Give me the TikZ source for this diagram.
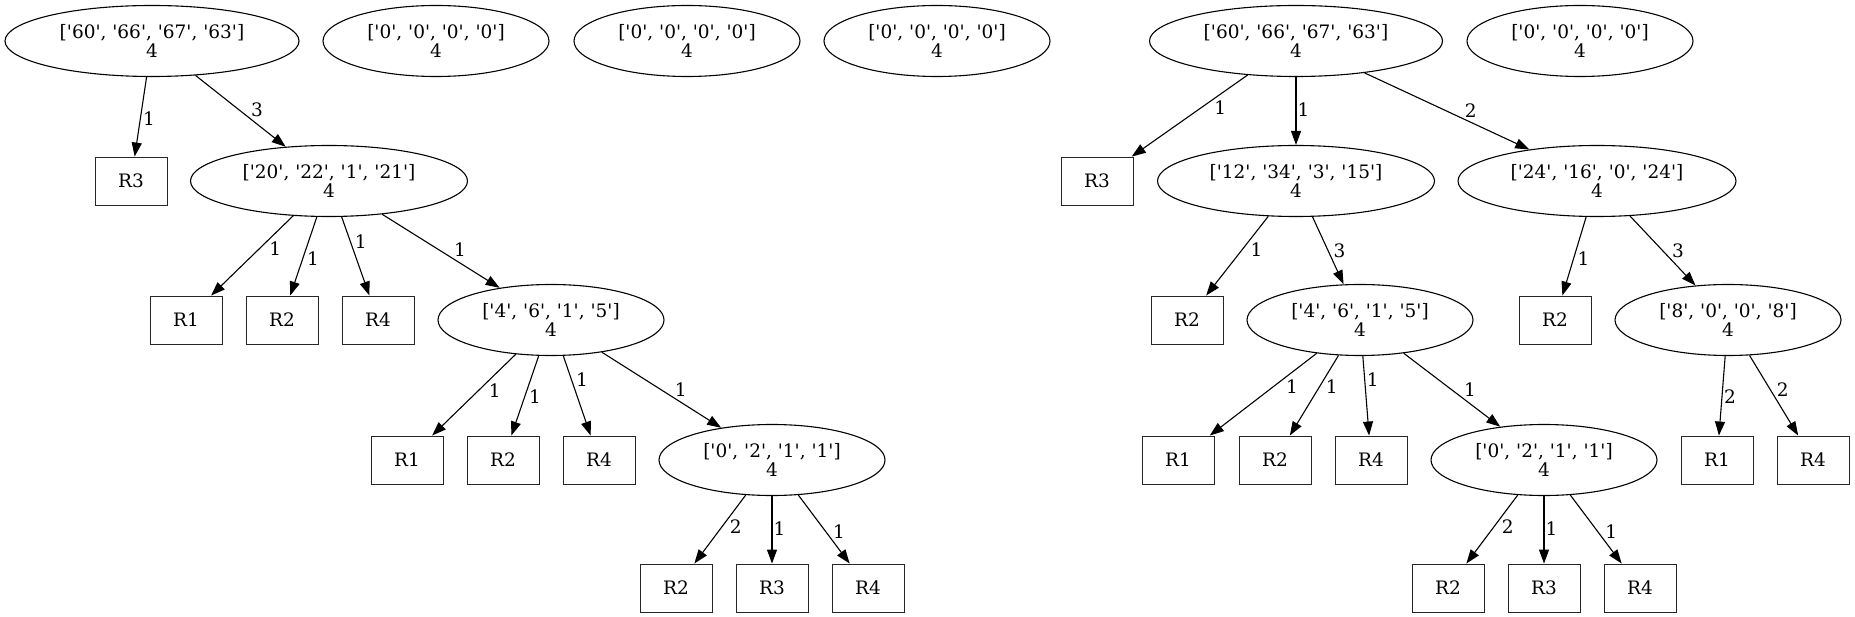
\documentclass[tikz,border=0pt]{standalone}
\usepackage{fontspec}
\setmainfont{DejaVu Serif}
\usetikzlibrary{shapes.geometric,arrows.meta}
\newcommand{\cnts}[4]{[\textquotesingle#1\textquotesingle, \textquotesingle#2\textquotesingle, \textquotesingle#3\textquotesingle, \textquotesingle#4\textquotesingle]\\4}

\begin{document}
\begin{tikzpicture}[
    x=1pt, y=-1pt,
    font=\fontsize{18.5}{19.3}\selectfont,
    counts/.style={ellipse, draw, line width=1.1pt, minimum width=#1, minimum height=71pt, inner sep=0pt, align=center},
    counts/.default=226pt,
    leaf/.style={draw, line width=0.9pt, draw=black!85, minimum width=72pt, minimum height=48pt, inner sep=0pt},
    arrow/.style={-{Triangle[length=14pt, width=10pt]}, line width=1.1pt},
    lbl/.style={auto, inner sep=1pt, pos=#1},
    lbl/.default=0.5
]

\fill[white] (0,0) rectangle (1855,617);

% Left tree
\node[counts=294pt] (a0) at (152,41) {\cnts{60}{66}{67}{63}};
\node[counts] (e1) at (436,41) {\cnts{0}{0}{0}{0}};
\node[counts] (e2) at (687,41) {\cnts{0}{0}{0}{0}};
\node[counts] (e3) at (937,41) {\cnts{0}{0}{0}{0}};

\node[leaf] (a0r3) at (131,181) {R3};
\node[counts=277pt] (b0) at (329,181) {\cnts{20}{22}{1}{21}};

\node[leaf] (b0r1) at (186,320) {R1};
\node[leaf] (b0r2) at (282,320) {R2};
\node[leaf] (b0r4) at (378,320) {R4};
\node[counts] (c0) at (551,320) {\cnts{4}{6}{1}{5}};

\node[leaf] (c0r1) at (407,460) {R1};
\node[leaf] (c0r2) at (503,460) {R2};
\node[leaf] (c0r4) at (599,460) {R4};
\node[counts] (d0) at (772,460) {\cnts{0}{2}{1}{1}};

\node[leaf] (d0r2) at (676,588) {R2};
\node[leaf] (d0r3) at (772,588) {R3};
\node[leaf] (d0r4) at (868,588) {R4};

% Right tree
\node[counts=293pt] (a1) at (1296,41) {\cnts{60}{66}{67}{63}};
\node[counts] (e4) at (1580,41) {\cnts{0}{0}{0}{0}};

\node[leaf] (a1r3) at (1097,181) {R3};
\node[counts=277pt] (b1) at (1296,181) {\cnts{12}{34}{3}{15}};
\node[counts=278pt] (c1) at (1597,181) {\cnts{24}{16}{0}{24}};

\node[leaf] (b1r2) at (1187,320) {R2};
\node[counts] (d1) at (1360,320) {\cnts{4}{6}{1}{5}};
\node[leaf] (c1r2) at (1555,320) {R2};
\node[counts] (f1) at (1728,320) {\cnts{8}{0}{0}{8}};

\node[leaf] (d1r1) at (1178,460) {R1};
\node[leaf] (d1r2) at (1275,460) {R2};
\node[leaf] (d1r4) at (1371,460) {R4};
\node[counts] (g1) at (1544,460) {\cnts{0}{2}{1}{1}};
\node[leaf] (f1r1) at (1717,460) {R1};
\node[leaf] (f1r4) at (1813,460) {R4};

\node[leaf] (g1r2) at (1448,588) {R2};
\node[leaf] (g1r3) at (1544,588) {R3};
\node[leaf] (g1r4) at (1640,588) {R4};

% Arrows, left tree
\draw[arrow] (a0) -- node[lbl=0.42] {1} (a0r3);
\draw[arrow] (a0) -- node[lbl=0.6] {3} (b0);
\draw[arrow] (b0) -- node[lbl=0.31] {1} (b0r1);
\draw[arrow] (b0) -- node[lbl=0.42] {1} (b0r2);
\draw[arrow] (b0) -- node[lbl=0.42] {1} (b0r4);
\draw[arrow] (b0) -- node[lbl=0.6] {1} (c0);
\draw[arrow] (c0) -- node[lbl=0.34] {1} (c0r1);
\draw[arrow] (c0) -- node[lbl=0.41] {1} (c0r2);
\draw[arrow] (c0) -- node[lbl=0.41] {1} (c0r4);
\draw[arrow] (c0) -- node[lbl=0.6] {1} (d0);
\draw[arrow] (d0) -- node[lbl=0.34] {2} (d0r2);
\draw[arrow] (d0) -- node[lbl=0.48] {1} (d0r3);
\draw[arrow] (d0) -- node[lbl=0.65] {1} (d0r4);

% Arrows, right tree
\draw[arrow] (a1) -- node[lbl=0.3] {1} (a1r3);
\draw[arrow] (a1) -- node[lbl=0.48] {1} (b1);
\draw[arrow] (a1) -- node[lbl=0.6] {2} (c1);
\draw[arrow] (b1) -- node[lbl=0.31] {1} (b1r2);
\draw[arrow] (b1) -- node[lbl=0.63] {3} (d1);
\draw[arrow] (c1) -- node[lbl=0.42] {1} (c1r2);
\draw[arrow] (c1) -- node[lbl=0.62] {3} (f1);
\draw[arrow] (d1) -- node[lbl=0.3] {1} (d1r1);
\draw[arrow] (d1) -- node[lbl=0.29] {1} (d1r2);
\draw[arrow] (d1) -- node[lbl=0.4] {1} (d1r4);
\draw[arrow] (d1) -- node[lbl=0.61] {1} (g1);
\draw[arrow] (f1) -- node[lbl=0.4] {2} (f1r1);
\draw[arrow] (f1) -- node[lbl=0.53] {2} (f1r4);
\draw[arrow] (g1) -- node[lbl=0.34] {2} (g1r2);
\draw[arrow] (g1) -- node[lbl=0.48] {1} (g1r3);
\draw[arrow] (g1) -- node[lbl=0.65] {1} (g1r4);

\end{tikzpicture}
\end{document}
